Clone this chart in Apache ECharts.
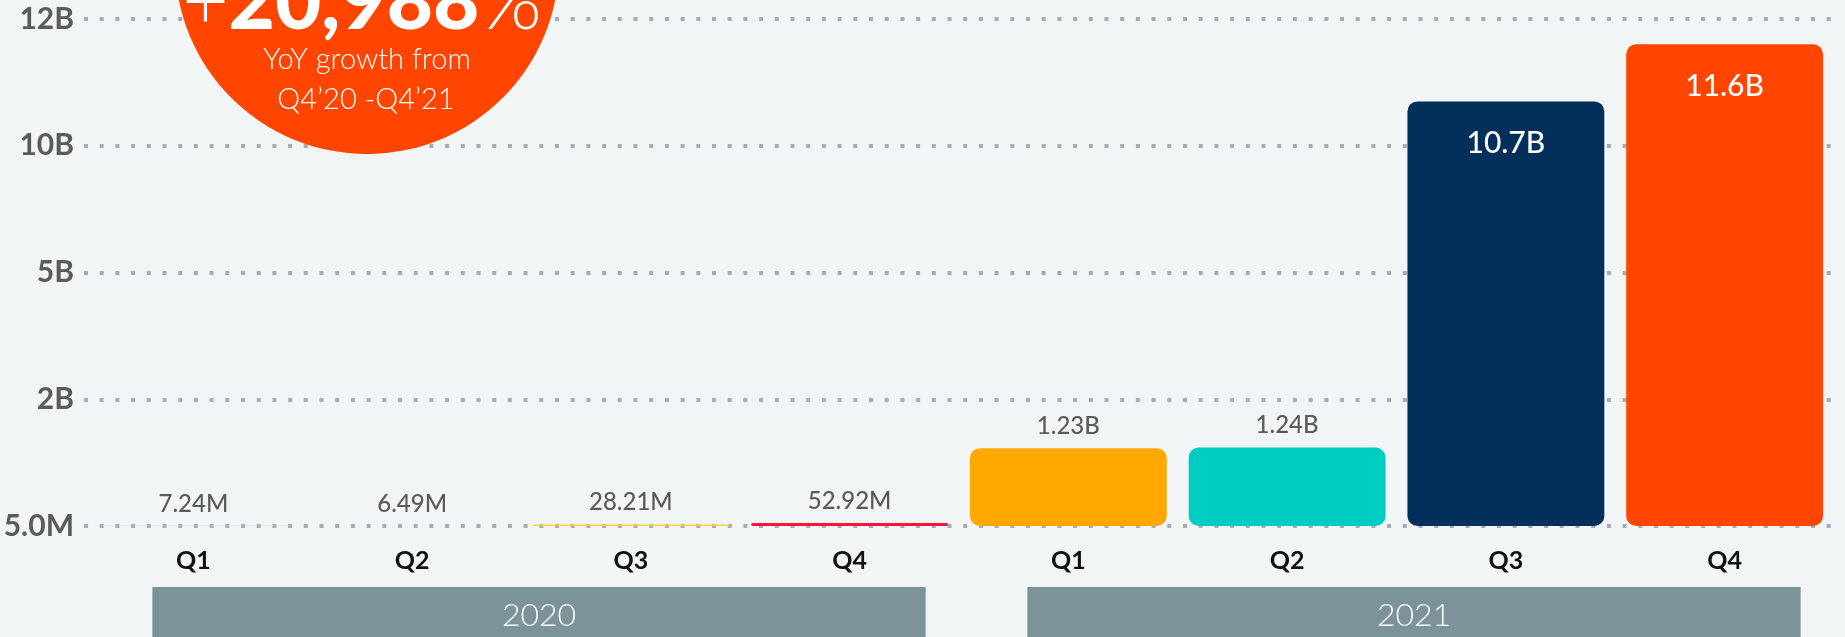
<!DOCTYPE html>
<html>
<head>
<meta charset="utf-8">
<script src="https://cdn.jsdelivr.net/npm/echarts@6/dist/echarts.min.js"></script>
<style>
html, body { margin: 0; padding: 0; background: #f2f5f6; }
#chart { width: 1845px; height: 637px; }
</style>
</head>
<body>
<div id="chart"></div>
<script>
const quarters = ['Q1', 'Q2', 'Q3', 'Q4', 'Q1', 'Q2', 'Q3', 'Q4'];
const years = ['2020', '2021'];
const values = [7.24e6, 6.49e6, 28.21e6, 52.92e6, 1.23e9, 1.24e9, 10.7e9, 11.6e9];
const valueLabels = ['7.24M', '6.49M', '28.21M', '52.92M', '1.23B', '1.24B', '10.7B', '11.6B'];
const barColors = ['#c9d1d4', '#c9d1d4', '#ffd43b', '#ff153c', '#ffa800', '#00cdc1', '#03305a', '#ff4500'];
const tickValues = [5e6, 2e9, 5e9, 10e9, 12e9];
const tickLabels = ['5.0M', '2B', '5B', '10B', '12B'];

const font = 'Lato, "Noto Sans", sans-serif';

// the y axis is drawn with evenly spaced ticks, so map each value piecewise between them
function toAxis(v) {
    for (let i = 0; i < tickValues.length - 1; i++) {
        if (v <= tickValues[i + 1]) {
            return i + (v - tickValues[i]) / (tickValues[i + 1] - tickValues[i]);
        }
    }
    return tickValues.length - 1;
}

const chart = echarts.init(document.getElementById('chart'));
chart.setOption({
    backgroundColor: '#f2f5f6',
    animation: false,
    grid: { left: 84, right: 11, top: 19, bottom: 111 },
    xAxis: {
        type: 'category',
        data: quarters,
        axisLine: { show: false },
        axisTick: { show: false },
        axisLabel: { color: '#111', fontSize: 25, fontWeight: 'bold', fontFamily: font, margin: 22 }
    },
    yAxis: {
        type: 'value',
        min: 0,
        max: 4,
        interval: 1,
        axisLine: { show: false },
        axisTick: { show: false },
        axisLabel: {
            formatter: v => tickLabels[v],
            color: '#5b5b5b', fontSize: 30, fontWeight: 'bold', fontFamily: font, margin: 10
        },
        splitLine: {
            show: true,
            lineStyle: { color: '#a6adb2', width: 4, type: [4, 11.7] }
        }
    },
    series: [{
        type: 'bar',
        barCategoryGap: '10%',
        itemStyle: { borderRadius: 10 },
        label: {
            show: true,
            position: 'top',
            distance: 10,
            color: '#5a5a5a',
            fontSize: 24,
            fontWeight: 500,
            fontFamily: font,
            formatter: p => valueLabels[p.dataIndex]
        },
        data: values.map((v, i) => {
            const item = { value: toAxis(v), itemStyle: { color: barColors[i] } };
            if (v > tickValues[2]) {
                item.label = { position: 'insideTop', distance: 27, color: '#fff', fontSize: 30, fontWeight: 500 };
            }
            return item;
        })
    }]
});

// badge + year bands
const graphics = [
    { type: 'circle', shape: { cx: 367, cy: -38, r: 192 }, style: { fill: '#ff4500' }, z: 100 },
    {
        type: 'text', z: 101,
        style: {
            x: 362, y: 3, align: 'center', verticalAlign: 'middle',
            text: '{a|+}{b|20,988}{a|%}',
            rich: {
                a: { fontSize: 80, fontWeight: 300, fontFamily: font, fill: '#fff' },
                b: { fontSize: 80, fontWeight: 900, fontFamily: font, fill: '#fff' }
            }
        }
    },
    {
        type: 'text', z: 101,
        style: { x: 367, y: 60, align: 'center', verticalAlign: 'middle', text: 'YoY growth from',
            fontSize: 29, fontWeight: 300, fontFamily: font, fill: '#fff' }
    },
    {
        type: 'text', z: 101,
        style: { x: 366, y: 100, align: 'center', verticalAlign: 'middle', text: 'Q4\u201920 -Q4\u201921',
            fontSize: 29, fontWeight: 300, fontFamily: font, fill: '#fff' }
    }
];
years.forEach((y, k) => {
    const first = chart.convertToPixel({ xAxisIndex: 0 }, k * 4);
    const last = chart.convertToPixel({ xAxisIndex: 0 }, k * 4 + 3);
    const x0 = first - 41, x1 = last + 76;
    graphics.push({ type: 'rect', shape: { x: x0, y: 587, width: x1 - x0, height: 60 }, style: { fill: '#7b9399' }, z: 50 });
    graphics.push({
        type: 'text', z: 51,
        style: { x: (x0 + x1) / 2, y: 616, align: 'center', verticalAlign: 'middle', text: y,
            fontSize: 32, fontWeight: 300, fontFamily: font, fill: '#fff' }
    });
});
chart.setOption({ graphic: graphics });
window.addEventListener('resize', () => chart.resize());
</script>
</body>
</html>
